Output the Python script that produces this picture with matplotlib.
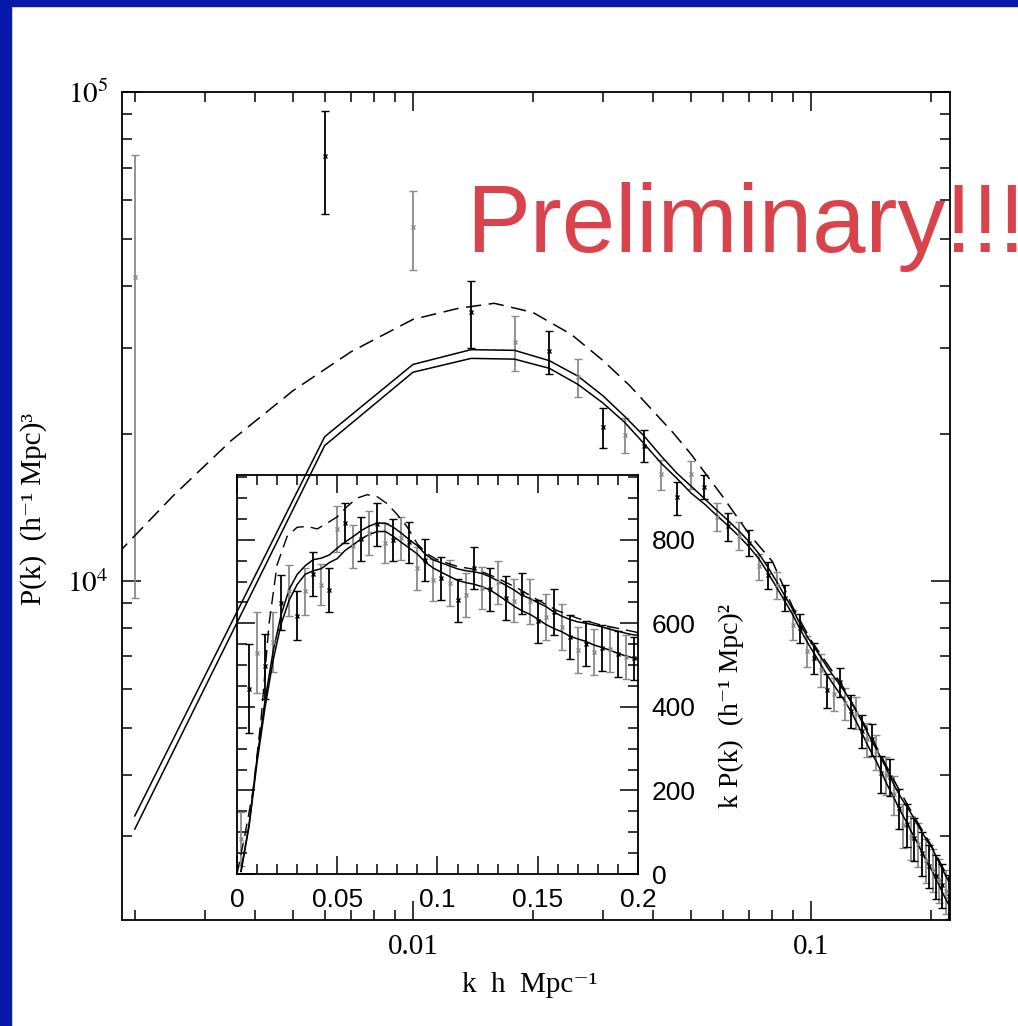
import numpy as np
import matplotlib
matplotlib.use('Agg')
import matplotlib.pyplot as plt
from matplotlib.patches import Rectangle
from matplotlib.ticker import LogLocator, MultipleLocator, FuncFormatter, NullFormatter

plt.rcParams['mathtext.fontset'] = 'stix'

# band-power estimates of P(k), k in h/Mpc
k_bins = [0.002, 0.006, 0.010, 0.014, 0.018, 0.022, 0.026, 0.030, 0.034, 0.038,
          0.042, 0.046, 0.050, 0.054, 0.058, 0.062, 0.066, 0.070, 0.074, 0.078,
          0.082, 0.086, 0.090, 0.094, 0.098, 0.102, 0.106, 0.110, 0.114, 0.118,
          0.122, 0.126, 0.130, 0.134, 0.138, 0.142, 0.146, 0.150, 0.154, 0.158,
          0.162, 0.166, 0.170, 0.174, 0.178, 0.182, 0.186, 0.190, 0.194, 0.198,
          0.202, 0.206, 0.210, 0.214, 0.218, 0.222]
pk_obs = [41800, 74000, 53000, 35500, 30800, 29500, 26100, 20600, 19900, 18900,
          16500, 14800, 16500, 15560, 13520, 12920, 12360, 11960, 10700, 10260,
          9800, 9230, 8130, 8000, 7180, 6940, 6570, 5960, 5860, 6200,
          5610, 5410, 5370, 4930, 4740, 4730, 4470, 4030, 4000, 3970,
          3650, 3420, 3160, 3170, 2990, 2970, 2890, 2770, 2680, 2610,
          2560, 2490, 2440, 2380, 2320, 2260]
pk_err = [32600, 17600, 9700, 5600, 4000, 3000, 2350, 1950, 1650, 1400,
          1150, 1150, 1100, 890, 890, 850, 800, 730, 655, 640,
          620, 580, 580, 540, 520, 510, 510, 470, 455, 425,
          420, 410, 400, 390, 375, 350, 370, 350, 360, 350,
          340, 320, 325, 315, 310, 300, 295, 290, 275, 260,
          260, 255, 250, 245, 240, 235]

# best-fit model convolved with the window, two fits
pk_upper = [3300, 19700, 27700, 29700, 29600, 28200, 26200, 23900, 21700, 19800,
            18000, 16600, 15600, 14720, 13930, 13260, 12620, 12000, 11350, 10640,
            9950, 9300, 8730, 8140, 7670, 7300, 6960, 6640, 6370, 6130,
            5900, 5650, 5400, 5160, 4930, 4700, 4520, 4330, 4160, 3970,
            3810, 3670, 3550, 3450, 3350, 3250, 3150, 3060, 2970, 2890,
            2830, 2730, 2650, 2560, 2490, 2420]
pk_lower = [3100, 18900, 26700, 28500, 28400, 27200, 25200, 23100, 21100, 19100,
            17400, 16200, 15100, 14350, 13590, 12940, 12320, 11710, 11080, 10360,
            9680, 9070, 8510, 7940, 7470, 7080, 6720, 6390, 6120, 5880,
            5640, 5400, 5140, 4890, 4650, 4440, 4260, 4070, 3880, 3720,
            3580, 3430, 3310, 3200, 3080, 2980, 2880, 2780, 2690, 2610,
            2540, 2450, 2380, 2300, 2230, 2170]

# unconvolved linear model (main panel)
k_lin = [0.0018, 0.0025, 0.0035, 0.005, 0.007, 0.010, 0.013, 0.016, 0.020, 0.025,
         0.030, 0.035, 0.040, 0.045, 0.050, 0.060, 0.070, 0.080, 0.090, 0.100,
         0.120, 0.140, 0.160, 0.180, 0.200, 0.225]
pk_lin = [11300, 14930, 19370, 24490, 29430, 34250, 36080, 36950, 35400, 31900,
          28230, 25090, 22300, 20090, 18130, 14860, 12430, 10940, 8820, 7550,
          6080, 4880, 3960, 3330, 2880, 2400]

# no-wiggle comparison model for the inset, k P(k)
k_nw = [0.0, 0.004, 0.008, 0.012, 0.016, 0.020, 0.025, 0.030, 0.035, 0.040,
        0.045, 0.050, 0.055, 0.060, 0.065, 0.070, 0.075, 0.080, 0.085, 0.090,
        0.095, 0.100, 0.110, 0.120, 0.130, 0.140, 0.150, 0.160, 0.170, 0.180,
        0.190, 0.200]
kpk_nw = [0, 95, 200, 370, 600, 740, 808, 830, 832, 826,
          840, 855, 880, 900, 908, 903, 886, 860, 830, 790,
          766, 752, 736, 728, 708, 684, 656, 630, 612, 598,
          588, 578]

SERIF = ['Liberation Serif', 'DejaVu Serif']
SANS = ['Liberation Sans', 'DejaVu Sans']
GREY = '#8a8a8a'
BLUE = '#0619a8'

k = np.array(k_bins)
p = np.array(pk_obs)
e = np.array(pk_err)

fig = plt.figure(figsize=(10.18, 10.26), dpi=100)
fig.patches.append(Rectangle((0, 0), 11 / 1018, 1, transform=fig.transFigure,
                             color=BLUE, zorder=0))
fig.patches.append(Rectangle((0, 1 - 6 / 1026), 1, 6 / 1026, transform=fig.transFigure,
                             color=BLUE, zorder=0))

# ---- main log-log panel
ax = fig.add_axes([0.1198, 0.1033, 0.8134, 0.8070])
ax.set_xscale('log')
ax.set_yscale('log')

for sl, col in ((slice(0, None, 2), GREY), (slice(1, None, 2), 'k')):
    ax.errorbar(k[sl], p[sl], yerr=e[sl], fmt='x', color=col, ms=3.5, mew=1,
                elinewidth=1.3, capsize=3, capthick=1.3)

ax.plot(k_bins, pk_upper, color='k', lw=1.1)
ax.plot(k_bins, pk_lower, color='k', lw=1.1)
ax.plot(k_lin, pk_lin, color='k', lw=1.1, dashes=(10, 5))

ax.set_xlim(0.001857, 0.2235)
ax.set_ylim(2020, 1e5)
ax.xaxis.set_major_locator(LogLocator(base=10))
ax.xaxis.set_major_formatter(FuncFormatter(lambda v, _: '%g' % v))
ax.xaxis.set_minor_formatter(NullFormatter())
ax.yaxis.set_major_formatter(FuncFormatter(lambda v, _: r'$10^{%d}$' % round(np.log10(v))))
ax.yaxis.set_minor_formatter(NullFormatter())
ax.tick_params(which='both', direction='in', top=True, right=True, width=1.1)
ax.tick_params(which='major', length=14, pad=10, labelsize=21)
ax.tick_params(which='minor', length=7)
for lab in ax.get_xticklabels():
    lab.set_family(SERIF)
for sp in ax.spines.values():
    sp.set_linewidth(1.3)

ax.text(0.493, -0.0785, 'k  h  Mpc⁻¹', transform=ax.transAxes, family=SERIF,
        fontsize=21, ha='center', va='center')
ax.text(-0.107, 0.496, 'P(k)  (h⁻¹ Mpc)³', transform=ax.transAxes, family=SERIF,
        fontsize=21, ha='center', va='center', rotation=90)

# ---- inset: k P(k) on linear axes
axi = fig.add_axes([0.2328, 0.1481, 0.3939, 0.3889])
axi.set_facecolor('none')
for sl, col in ((slice(0, None, 2), GREY), (slice(1, None, 2), 'k')):
    axi.errorbar(k[sl], k[sl] * p[sl], yerr=k[sl] * e[sl], fmt='x', color=col,
                 ms=3, mew=1, elinewidth=1.3, capsize=3, capthick=1.3)
axi.plot(k, k * np.array(pk_upper), color='k', lw=1.1)
axi.plot(k, k * np.array(pk_lower), color='k', lw=1.1)
axi.plot(k_nw, kpk_nw, color='k', lw=1.0, dashes=(9, 5))

axi.set_xlim(0, 0.2)
axi.set_ylim(0, 955)
axi.xaxis.set_major_locator(MultipleLocator(0.05))
axi.xaxis.set_minor_locator(MultipleLocator(0.01))
axi.yaxis.set_major_locator(MultipleLocator(200))
axi.yaxis.set_minor_locator(MultipleLocator(50))
axi.xaxis.set_major_formatter(FuncFormatter(lambda v, _: '%g' % round(v, 3)))
axi.tick_params(which='both', direction='in', top=True, right=True, left=True,
                labelleft=False, labelright=True, width=1.1)
axi.tick_params(which='major', length=13, pad=10, labelsize=19)
axi.tick_params(which='minor', length=7)
for lab in axi.get_xticklabels() + axi.get_yticklabels():
    lab.set_family(SANS)
for sp in axi.spines.values():
    sp.set_linewidth(1.3)
axi.text(1.232, 0.42, 'k P(k)  (h⁻¹ Mpc)²', transform=axi.transAxes, family=SERIF,
         fontsize=20, ha='center', va='center', rotation=90)

fig.text(466 / 1018, 1 - 252 / 1026, 'Preliminary!!!', color='#d9434b',
         fontsize=69, family=SANS, ha='left', va='baseline')

fig.savefig('out.png', dpi=100)
